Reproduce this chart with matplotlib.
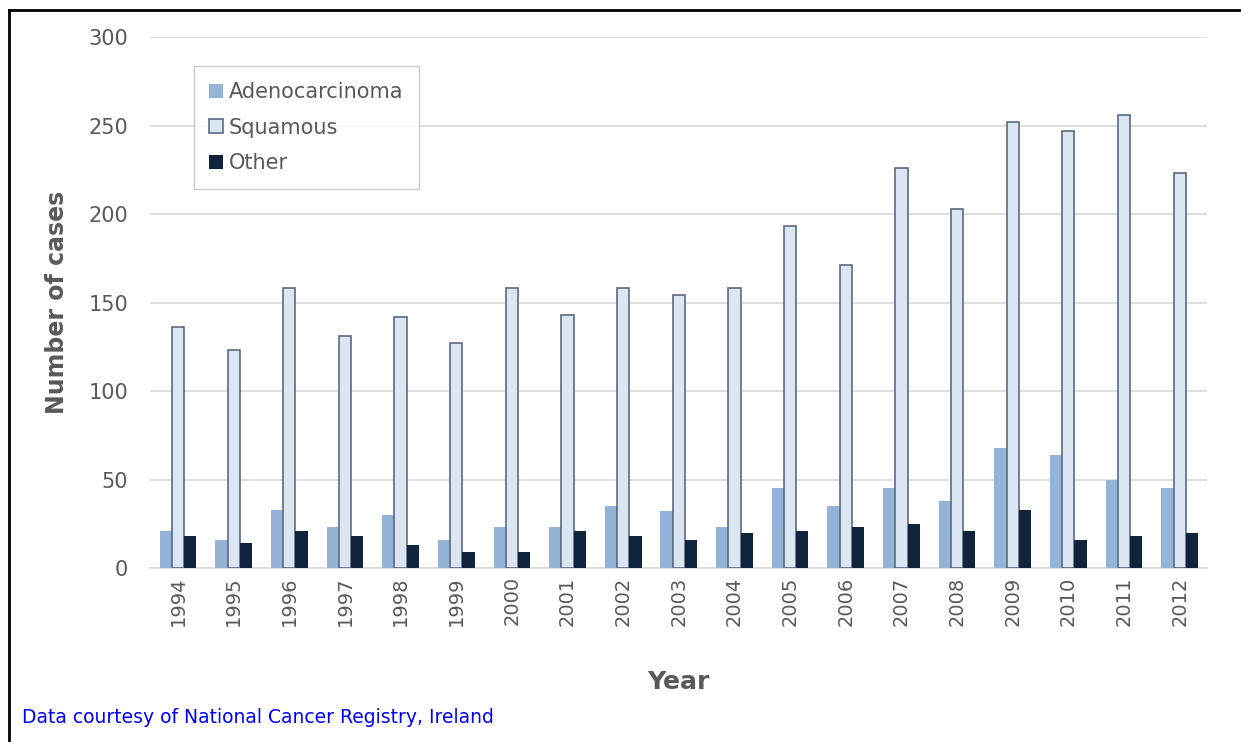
import matplotlib

matplotlib.use("Agg")
import matplotlib.pyplot as plt  # noqa: E402
import numpy as np  # noqa: E402
from matplotlib.lines import Line2D  # noqa: E402

years = [str(y) for y in range(1994, 2013)]
adeno = [21, 16, 33, 23, 30, 16, 23, 23, 35, 32, 23, 45, 35, 45, 38, 68, 64, 50, 45]
squamous = [136, 123, 158, 131, 142, 127, 158, 143, 158, 154, 158, 193, 171, 226, 203, 252, 247, 256, 223]
other = [18, 14, 21, 18, 13, 9, 9, 21, 18, 16, 20, 21, 23, 25, 21, 33, 16, 18, 20]

GREY = "#595959"
plt.rcParams["font.family"] = ["DejaVu Sans"]

fig = plt.figure(figsize=(12.41, 7.42), dpi=100)
ax = fig.add_axes([0.121, 0.2345, 0.852, 0.7155])

x = np.arange(len(years))
w = 0.22
ax.bar(x - w, adeno, w, color="#95b3d7", label="Adenocarcinoma", zorder=3)
ax.bar(x, squamous, w, color="#dce6f2", edgecolor="#5b6b82", linewidth=1.2, label="Squamous", zorder=3)
ax.bar(x + w, other, w, color="#10243e", label="Other", zorder=3)

ax.set_xlim(-0.5, len(years) - 0.5)
ax.set_ylim(0, 300)
ax.set_yticks(range(0, 301, 50))
ax.set_xticks(x)
ax.set_xticklabels(years, rotation=90)
ax.tick_params(axis="both", length=0, colors=GREY, labelsize=14)
ax.tick_params(axis="y", pad=16, labelsize=15)
ax.tick_params(axis="x", pad=6)
ax.grid(axis="y", color="#d9d9d9", linewidth=1.2, zorder=0)
for side in ["top", "right", "left"]:
    ax.spines[side].set_visible(False)
ax.spines["bottom"].set_color("#d9d9d9")
ax.spines["bottom"].set_linewidth(1.2)

ax.set_xlabel("Year", fontsize=18, fontweight="bold", color=GREY, labelpad=32)
ax.set_ylabel("Number of cases", fontsize=17, fontweight="bold", color=GREY, labelpad=14)

leg = ax.legend(loc="upper left", bbox_to_anchor=(0.041, 0.945), borderaxespad=0, fontsize=15,
                frameon=True, fancybox=False, edgecolor="#bfbfbf", handlelength=0.65,
                handleheight=0.65, handletextpad=0.3, labelspacing=0.75, borderpad=0.75,
                labelcolor=GREY)
leg.get_frame().set_linewidth(1.0)

fig.text(0.018, 0.033, "Data courtesy of National Cancer Registry, Ireland", color="#0000ff",
         fontsize=13.5, ha="left", va="center")

# outer frame lines (left and top)
fig.add_artist(Line2D([0.0075, 0.0075], [0.0, 0.9865], color="black", linewidth=2, transform=fig.transFigure))
fig.add_artist(Line2D([0.0075, 1.0], [0.9865, 0.9865], color="black", linewidth=2, transform=fig.transFigure))

fig.savefig("out.png", dpi=100)
